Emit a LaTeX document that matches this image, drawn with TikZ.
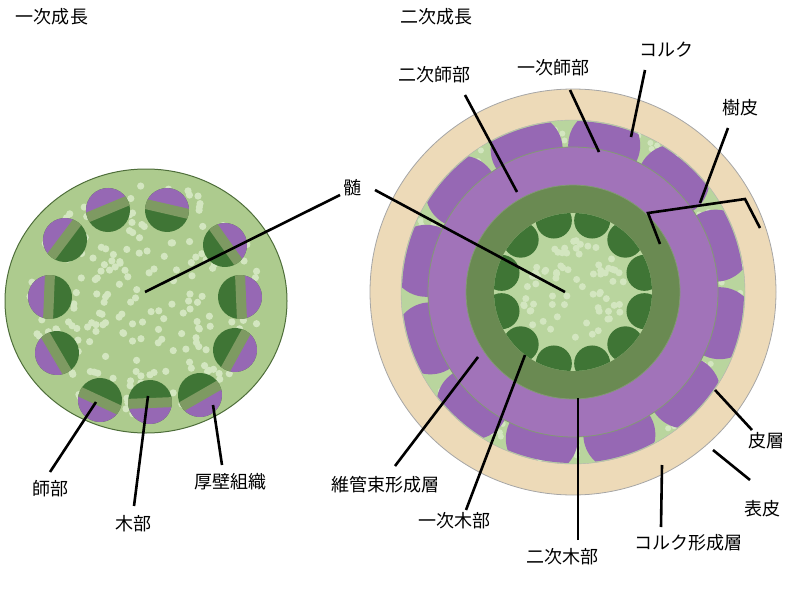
\documentclass[tikz,border=0pt]{standalone}
\usepackage{fontspec}
\setmainfont{Noto Sans CJK JP}
\usepackage{tikz}
\usetikzlibrary{positioning,calc}
\definecolor{stemgreen}{HTML}{ADCB8E}
\definecolor{pithgreen}{HTML}{B9D59E}
\definecolor{dotgreen}{HTML}{D3E6C0}
\definecolor{xylemgreen}{HTML}{3F7535}
\definecolor{bandgreen}{HTML}{7E9A62}
\definecolor{phloempurple}{HTML}{9668B4}
\definecolor{ringpurple}{HTML}{A173B9}
\definecolor{woodgreen}{HTML}{6A8A52}
\definecolor{corkbeige}{HTML}{EDDAB8}
\definecolor{edgegreen}{HTML}{4E6E3A}

\begin{document}
\begin{tikzpicture}[x=1pt, y=-1pt,
    lbl/.style={font=\fontsize{18}{18}\selectfont, inner sep=1pt},
    ptr/.style={line width=2.6pt, black},
    ring/.style={draw=edgegreen!70, line width=0.8pt}
]
    \useasboundingbox (0,0) rectangle (800,594);

    % Left: primary growth
    \fill[stemgreen, draw=edgegreen, line width=1pt] (146,301) ellipse (141 and 132);
    \pgfmathsetseed{7}
    \foreach \i in {1,...,230} {
        \pgfmathsetmacro{\aa}{360*rnd}
        \pgfmathsetmacro{\rr}{118*sqrt(rnd)}
        \fill[dotgreen] ($(146,301)+(\aa:\rr)$) circle (3.6);
    }
    \foreach \bx/\by in {108/210,167/210,225/245,240/297,235/350,200/395,150/402,100/400,57/353,50/297,65/240} {
        \pgfmathsetmacro{\ang}{atan2(\by-301,\bx-146)}
        \begin{scope}[shift={(\bx,\by)}, rotate=-\ang]
            \fill[xylemgreen] (0,0) circle (22);
            \begin{scope}
                \clip (0,0) circle (22);
                \fill[phloempurple] (5,-25) rectangle (25,25);
                \fill[bandgreen] (-4,-25) rectangle (6,25);
            \end{scope}
        \end{scope}
    }

    % Right: secondary growth
    \fill[corkbeige, draw=black!35, line width=0.8pt] (573,292) circle (203);
    \fill[pithgreen, draw=black!30] (573,292) circle (172);
    \pgfmathsetseed{11}
    \foreach \i in {1,...,110} {
        \pgfmathsetmacro{\aa}{360*rnd}
        \pgfmathsetmacro{\rr}{148+22*rnd}
        \fill[dotgreen] ($(573,292)+(\aa:\rr)$) circle (3);
    }
    \begin{scope}
        \clip (573,292) circle (171);
        \foreach \k in {0,...,11} {
            \fill[phloempurple] ($(573,292)+(\k*30+12:150)$) circle (36);
        }
    \end{scope}
    \fill[ringpurple, ring] (573,292) circle (145);
    \fill[woodgreen, ring] (573,292) circle (107);
    \fill[pithgreen] (573,292) circle (79);
    \begin{scope}
        \clip (573,292) circle (79);
        \foreach \k in {0,...,11} {
            \fill[xylemgreen] ($(573,292)+(\k*30+15:74)$) circle (18);
        }
    \end{scope}
    \pgfmathsetseed{3}
    \foreach \i in {1,...,70} {
        \pgfmathsetmacro{\aa}{360*rnd}
        \pgfmathsetmacro{\rr}{52*sqrt(rnd)}
        \fill[dotgreen] ($(573,292)+(\aa:\rr)$) circle (3.5);
    }

    % Labels
    \node[lbl] (primary) at (52,17) {一次成長};
    \node[lbl] (secondary) at (436,17) {二次成長};
    \node[lbl] (secphloem) at (434,75) {二次師部};
    \node[lbl] (priphloem) at (553,68) {一次師部};
    \node[lbl] (cork) at (666,50) {コルク};
    \node[lbl] (bark) at (740,108) {樹皮};
    \node[lbl] (pith) at (352,188) {髄};
    \node[lbl] (cortex) at (766,441) {皮層};
    \node[lbl] (epidermis) at (762,509) {表皮};
    \node[lbl] (corkcamb) at (688,543) {コルク形成層};
    \node[lbl] (seczylem) at (562,557) {二次木部};
    \node[lbl] (prixylem) at (454,521) {一次木部};
    \node[lbl] (vascamb) at (385,485) {維管束形成層};
    \node[lbl] (phloem) at (50,489) {師部};
    \node[lbl] (xylem) at (133,524) {木部};
    \node[lbl] (sclerench) at (230,482) {厚壁組織};

    % Pointers
    \coordinate (pithL) at (145,292);
    \coordinate (pithR) at (565,292);
    \draw[ptr] (340,195) -- (pithL);
    \draw[ptr] (375,190) -- (pithR);
    \draw[ptr] (465,95) -- (517,192);
    \draw[ptr] (570,90) -- (599,152);
    \draw[ptr] (645,70) -- (631,137);
    \draw[ptr] (728,128) -- (700,203);
    \draw[ptr] (660,244) -- (648,213) -- (745,199) -- (760,228);
    \draw[ptr] (752,430) -- (715,390);
    \draw[ptr] (750,480) -- (713,450);
    \draw[ptr] (661,527) -- (662,465);
    \draw[ptr] (578,540) -- (578,398);
    \draw[ptr] (466,510) -- (525,355);
    \draw[ptr] (395,466) -- (478,357);
    \draw[ptr] (50,472) -- (96,402);
    \draw[ptr] (134,506) -- (148,396);
    \draw[ptr] (222,465) -- (213,405);
\end{tikzpicture}
\end{document}
